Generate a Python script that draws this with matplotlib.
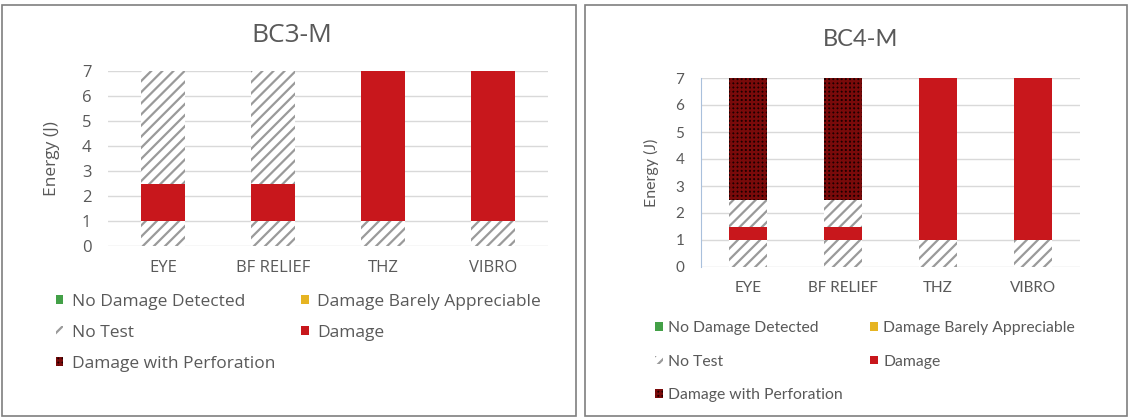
import matplotlib
matplotlib.use("Agg")
import matplotlib.pyplot as plt
from matplotlib.patches import Patch, Rectangle

categories = ["EYE", "BF RELIEF", "THZ", "VIBRO"]

# stacked segments, bottom to top (energy in J)
bc3_states = ["No Test", "Damage", "No Test"]
bc3_heights = [[1, 1, 1, 1],
               [1.5, 1.5, 6, 6],
               [4.5, 4.5, 0, 0]]

bc4_states = ["No Test", "Damage", "No Test", "Damage with Perforation"]
bc4_heights = [[1, 1, 1, 1],
               [0.5, 0.5, 6, 6],
               [1, 1, 0, 0],
               [4.5, 4.5, 0, 0]]

legend_labels = ["No Damage Detected", "Damage Barely Appreciable", "No Test",
                 "Damage", "Damage with Perforation"]

TXT = "#595959"
GRID = "#d9d9d9"
styles = {
    "No Damage Detected": dict(facecolor="#43a047", edgecolor="#43a047", hatch=None),
    "Damage Barely Appreciable": dict(facecolor="#e6b422", edgecolor="#e6b422", hatch=None),
    "No Test": dict(facecolor="white", edgecolor="#9a9a9a", hatch="///"),
    "Damage": dict(facecolor="#c8171c", edgecolor="#c8171c", hatch=None),
    "Damage with Perforation": dict(facecolor="#1c0000", edgecolor="#7a0a0a", hatch="++++"),
}

plt.rcParams["hatch.linewidth"] = 1.6

fig = plt.figure(figsize=(11.3, 4.18), dpi=100)
fig.patch.set_facecolor("white")

# panel frames
fig.add_artist(Rectangle((2 / 1130, 2 / 418), 574 / 1130, 411 / 418, transform=fig.transFigure,
                         fill=False, edgecolor="#7f7f7f", linewidth=1.2))
fig.add_artist(Rectangle((585 / 1130, 2 / 418), 542 / 1130, 411 / 418, transform=fig.transFigure,
                         fill=False, edgecolor="#7f7f7f", linewidth=1.2))


def draw(ax, states, heights, font, fs, tick_pad, xpad):
    bottoms = [0] * len(categories)
    for st, h in zip(states, heights):
        s = styles[st]
        ax.bar(categories, h, width=0.4, bottom=bottoms, facecolor=s["facecolor"],
               edgecolor=s["edgecolor"], hatch=s["hatch"], linewidth=0, zorder=2)
        bottoms = [b + v for b, v in zip(bottoms, h)]
    ax.set_ylim(0, 7)
    ax.set_xlim(-0.5, len(categories) - 0.5)
    ax.set_yticks(range(8))
    ax.yaxis.grid(True, color=GRID, linewidth=1)
    ax.set_axisbelow(True)
    for sp in ax.spines.values():
        sp.set_visible(False)
    ax.tick_params(axis="both", length=0, labelcolor=TXT, labelsize=fs)
    ax.tick_params(axis="y", pad=tick_pad)
    ax.tick_params(axis="x", pad=xpad)
    for lab in ax.get_xticklabels() + ax.get_yticklabels():
        lab.set_fontfamily(font)
    ax.set_ylabel("Energy (J)", color=TXT, fontsize=fs + 0.5, fontfamily=font)
    ax.yaxis.set_label_coords(-0.11, 0.5)


# BC3-M
ax1 = fig.add_axes([108 / 1130, 1 - 246 / 418, 440 / 1130, 175 / 418])
draw(ax1, bc3_states, bc3_heights, "Open Sans", 12, 12, 10)
fig.text(292 / 1130, 1 - 36 / 418, "BC3-M", ha="center", va="center", fontsize=19,
         color=TXT, fontfamily="Open Sans")

# BC4-M
ax2 = fig.add_axes([701 / 1130, 1 - 267 / 418, 379 / 1130, 189 / 418])
draw(ax2, bc4_states, bc4_heights, "Lato", 11, 12, 10)
ax2.spines["left"].set_visible(True)
ax2.spines["left"].set_color("#a9c0dc")
fig.text(861 / 1130, 1 - 40 / 418, "BC4-M", ha="center", va="center", fontsize=17,
         color=TXT, fontfamily="Lato")

# legends (column-major order so it reads row by row)
order = [0, 2, 4, 1, 3]
handles = [Patch(label=legend_labels[i], linewidth=0, **styles[legend_labels[i]]) for i in order]

leg1 = fig.legend(handles=handles, ncol=2, loc="upper left", bbox_to_anchor=(56 / 1130, 1 - 294 / 418),
                  frameon=False, borderpad=0, borderaxespad=0, handlelength=0.42, handleheight=0.42,
                  handletextpad=0.5, columnspacing=1.5, labelspacing=0.86,
                  prop={"family": "Open Sans", "size": 12.5})
for t in leg1.get_texts():
    t.set_color(TXT)

leg2 = fig.legend(handles=handles, ncol=2, loc="upper left", bbox_to_anchor=(655 / 1130, 1 - 321 / 418),
                  frameon=False, borderpad=0, borderaxespad=0, handlelength=0.48, handleheight=0.48,
                  handletextpad=0.35, columnspacing=1.75, labelspacing=1.25,
                  prop={"family": "Lato", "size": 11.3})
for t in leg2.get_texts():
    t.set_color(TXT)

fig.savefig("out.png", dpi=100)
